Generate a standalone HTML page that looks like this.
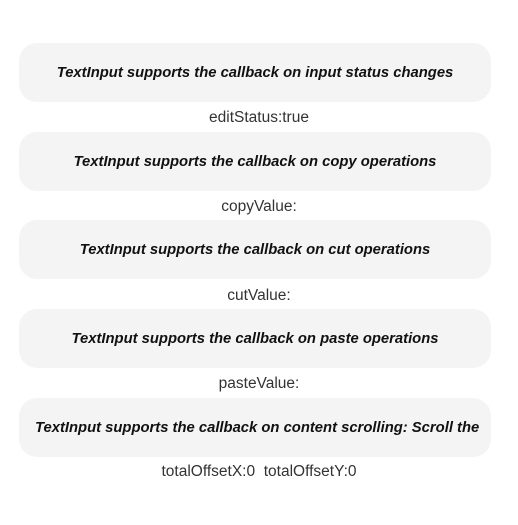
<!DOCTYPE html>
<html><head><style>
body{margin:0;width:518px;height:525px;background:#fff;font-family:"Liberation Sans",sans-serif;position:relative;overflow:hidden}
.b{position:absolute;left:19px;width:472px;height:59px;background:#f3f4f3;border-radius:18px;display:flex;align-items:center;justify-content:center;font-weight:bold;font-style:italic;font-size:14.8px;color:#111;white-space:nowrap;overflow:hidden}
.l{position:absolute;left:0;width:518px;text-align:center;font-size:15.5px;color:#333;line-height:20px}
</style></head><body>
<div class="b" style="top:43px">TextInput supports the callback on input status changes</div>
<div class="l" style="top:108px">editStatus:true</div>
<div class="b" style="top:132px">TextInput supports the callback on copy operations</div>
<div class="l" style="top:197px">copyValue:</div>
<div class="b" style="top:220px">TextInput supports the callback on cut operations</div>
<div class="l" style="top:286px">cutValue:</div>
<div class="b" style="top:309px">TextInput supports the callback on paste operations</div>
<div class="l" style="top:374px">pasteValue:</div>
<div class="b" style="top:398px;justify-content:flex-start;padding-left:16px;box-sizing:border-box">TextInput supports the callback on content scrolling: Scroll the</div>
<div class="l" style="top:462px">totalOffsetX:0&nbsp; totalOffsetY:0</div>
</body></html>
